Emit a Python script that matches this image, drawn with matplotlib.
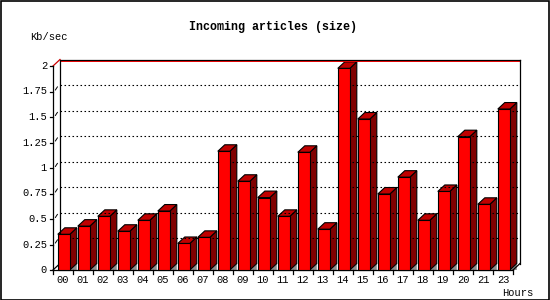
import matplotlib
matplotlib.use("Agg")
import matplotlib.pyplot as plt
from matplotlib.patches import Polygon, Rectangle
from matplotlib.transforms import ScaledTranslation

# data
hours = ['00', '01', '02', '03', '04', '05', '06', '07', '08', '09', '10', '11',
         '12', '13', '14', '15', '16', '17', '18', '19', '20', '21', '23']
kb_sec = [0.35, 0.43, 0.526, 0.38, 0.487, 0.578, 0.26, 0.32, 1.164, 0.87, 0.71, 0.526,
          1.154, 0.40, 1.977, 1.48, 0.745, 0.91, 0.487, 0.77, 1.307, 0.644, 1.578]
yticks = [0, 0.25, 0.5, 0.75, 1, 1.25, 1.5, 1.75, 2]
ytick_labels = ['0', '0.25', '0.5', '0.75', '1', '1.25', '1.5', '1.75', '2']

FONT = 'Liberation Mono'
DEPTH_X = 7    # pixels of 3D depth
DEPTH_Y = 6.5

fig = plt.figure(figsize=(5.5, 3.0), dpi=100)
fig.patch.set_facecolor('white')
W, H = 550, 300
ax = fig.add_axes([53 / W, 30 / H, 460 / W, 204 / H])
ax.set_xlim(0, len(hours))
ax.set_ylim(0, 2)
ax.axis('off')

# depth expressed in data units
dxd = DEPTH_X / (460 / len(hours))
dyd = DEPTH_Y / (204 / 2)
back = ax.transData + ScaledTranslation(DEPTH_X / 100, DEPTH_Y / 100, fig.dpi_scale_trans)
n = len(hours)

# back plane: dotted gridlines, top line, side lines
for v in yticks[1:-1]:
    ax.plot([0, n], [v, v], color='black', lw=0.8, ls=(0, (1.4, 2.2)),
            transform=back, clip_on=False)
ax.plot([0, n], [2, 2], color='red', lw=0.7, clip_on=False,
        transform=back + ScaledTranslation(0, -1.0 / 100, fig.dpi_scale_trans))
ax.plot([0, n], [2, 2], color='black', lw=0.9, transform=back, clip_on=False)
ax.plot([0, 0], [0, 2], color='black', lw=0.9, transform=back, clip_on=False)
ax.plot([n, n], [0, 2], color='black', lw=0.9, transform=back, clip_on=False)

# front axes
ax.plot([0, 0], [0, 2], color='black', lw=0.9, clip_on=False)
ax.plot([0, n], [0, 0], color='black', lw=0.9, clip_on=False)
ax.plot([0, dxd], [2, 2 + dyd], color='#cc0000', lw=0.9, clip_on=False)
ax.plot([0, dxd], [0, dyd], color='black', lw=0.9, clip_on=False)
ax.plot([n, n + dxd], [0, dyd], color='black', lw=0.9, clip_on=False)
for v, lab in zip(yticks, ytick_labels):
    ax.plot([-0.15, 0], [v, v], color='black', lw=0.9, clip_on=False)
    if 0 < v < 2:
        ax.plot([0.12, 0.22], [v + 0.015, v + 0.045], color='black', lw=0.7, clip_on=False)
    ax.text(-0.3, v, lab, ha='right', va='center', fontsize=7.5, family=FONT)
for i in range(n + 1):
    ax.plot([i, i], [0, -0.04], color='black', lw=0.9, clip_on=False)

# 3D bars
bw = 0.6
off = 0.24
for i, v in enumerate(kb_sec):
    x0 = i + off
    x1 = x0 + bw
    shadow = Polygon([(x1, 0), (x1 + dxd, dyd), (x1 + dxd, 0)], closed=True,
                     facecolor='#8c8c8c', edgecolor='none', clip_on=False)
    side = Polygon([(x1, 0), (x1 + dxd, dyd), (x1 + dxd, v + dyd), (x1, v)], closed=True,
                   facecolor='#800000', edgecolor='black', lw=0.8, clip_on=False)
    top = Polygon([(x0, v), (x0 + dxd, v + dyd), (x1 + dxd, v + dyd), (x1, v)], closed=True,
                  facecolor='#c00000', edgecolor='black', lw=0.8, clip_on=False)
    for p in (shadow, side, top):
        ax.add_patch(p)
ax.bar([i + off for i in range(n)], kb_sec, width=bw, align='edge',
       color='#ff0000', edgecolor='black', linewidth=0.8, clip_on=False, zorder=3)

for i, lab in enumerate(hours):
    ax.text(i + 0.5, -0.05, lab, ha='center', va='top', fontsize=7.5, family=FONT)

fig.text(273 / W, 1 - 27 / H, 'Incoming articles (size)', ha='center', va='center',
         fontsize=8.4, family=FONT, fontweight='bold')
fig.text(30 / W, 1 - 37 / H, 'Kb/sec', ha='left', va='center', fontsize=7.5, family=FONT)
fig.text(533 / W, 1 - 293 / H, 'Hours', ha='right', va='center', fontsize=7.5, family=FONT)

# outer frame
fig.patches.append(Rectangle((0.5 / W, 0.5 / H), 548.5 / W, 298.5 / H, transform=fig.transFigure,
                             fill=False, edgecolor='black', lw=1.2))

fig.savefig('out.png', dpi=100)
